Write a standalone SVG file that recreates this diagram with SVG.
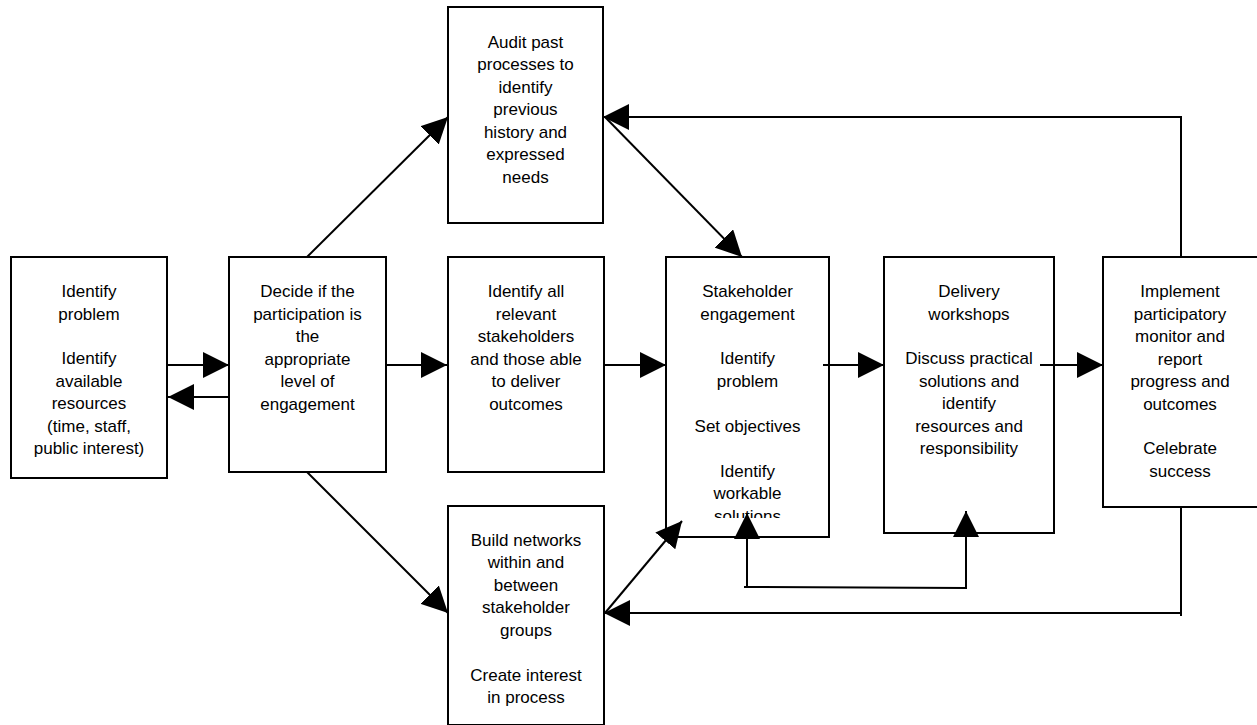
<svg xmlns="http://www.w3.org/2000/svg" width="1257" height="725" viewBox="0 0 1257 725">
<style>
.box{fill:#fff;stroke:#000;stroke-width:2}
.t{font-family:"Liberation Sans",Arial,sans-serif;font-size:17px;fill:#000;text-anchor:middle}
.c{fill:none;stroke:#000;stroke-width:2}
.a{marker-end:url(#ah)}
</style>
<defs>
<marker id="ah" markerUnits="userSpaceOnUse" markerWidth="26" markerHeight="26" refX="26" refY="13" orient="auto">
<path d="M0,0 L26,13 L0,26 Z" fill="#000"/>
</marker>
<clipPath id="clip5"><rect x="666" y="257" width="163" height="261"/></clipPath>
</defs>
<rect width="1257" height="725" fill="#fff"/>

<g id="n1">
<rect class="box" x="11" y="257" width="156" height="221"/>
<text class="t"><tspan x="89" y="297">Identify</tspan><tspan x="89" y="319.5">problem</tspan><tspan x="89" y="364">Identify</tspan><tspan x="89" y="386.5">available</tspan><tspan x="89" y="409">resources</tspan><tspan x="89" y="431.5">(time, staff,</tspan><tspan x="89" y="454">public interest)</tspan></text>
</g>

<g id="n2">
<rect class="box" x="229" y="257" width="157" height="215"/>
<text class="t"><tspan x="307.5" y="297">Decide if the</tspan><tspan x="307.5" y="319.5">participation is</tspan><tspan x="307.5" y="342">the</tspan><tspan x="307.5" y="364.5">appropriate</tspan><tspan x="307.5" y="387">level of</tspan><tspan x="307.5" y="409.5">engagement</tspan></text>
</g>

<g id="n3">
<rect class="box" x="448" y="7" width="155" height="216"/>
<text class="t"><tspan x="525.5" y="47.5">Audit past</tspan><tspan x="525.5" y="70">processes to</tspan><tspan x="525.5" y="92.5">identify</tspan><tspan x="525.5" y="115">previous</tspan><tspan x="525.5" y="137.5">history and</tspan><tspan x="525.5" y="160">expressed</tspan><tspan x="525.5" y="182.5">needs</tspan></text>
</g>

<g id="n4">
<rect class="box" x="448" y="257" width="156" height="215"/>
<text class="t"><tspan x="526" y="297">Identify all</tspan><tspan x="526" y="319.5">relevant</tspan><tspan x="526" y="342">stakeholders</tspan><tspan x="526" y="364.5">and those able</tspan><tspan x="526" y="387">to deliver</tspan><tspan x="526" y="409.5">outcomes</tspan></text>
</g>

<g id="n5">
<rect class="box" x="666" y="257" width="163" height="280"/>
<text class="t" clip-path="url(#clip5)"><tspan x="747.5" y="297">Stakeholder</tspan><tspan x="747.5" y="319.5">engagement</tspan><tspan x="747.5" y="364">Identify</tspan><tspan x="747.5" y="386.5">problem</tspan><tspan x="747.5" y="431.5">Set objectives</tspan><tspan x="747.5" y="476.5">Identify</tspan><tspan x="747.5" y="499">workable</tspan><tspan x="747.5" y="521.5">solutions</tspan></text>
</g>

<g id="n6">
<rect class="box" x="884" y="257" width="170" height="276"/>
<text class="t"><tspan x="969" y="297">Delivery</tspan><tspan x="969" y="319.5">workshops</tspan><tspan x="969" y="364">Discuss practical</tspan><tspan x="969" y="386.5">solutions and</tspan><tspan x="969" y="409">identify</tspan><tspan x="969" y="431.5">resources and</tspan><tspan x="969" y="454">responsibility</tspan></text>
</g>

<g id="n7">
<rect class="box" x="1103" y="257" width="165" height="250"/>
<text class="t"><tspan x="1180" y="297">Implement</tspan><tspan x="1180" y="319.5">participatory</tspan><tspan x="1180" y="342">monitor and</tspan><tspan x="1180" y="364.5">report</tspan><tspan x="1180" y="387">progress and</tspan><tspan x="1180" y="409.5">outcomes</tspan><tspan x="1180" y="454">Celebrate</tspan><tspan x="1180" y="476.5">success</tspan></text>
</g>

<g id="n8">
<rect class="box" x="448" y="506" width="156" height="219"/>
<text class="t"><tspan x="526" y="545.5">Build networks</tspan><tspan x="526" y="568">within and</tspan><tspan x="526" y="590.5">between</tspan><tspan x="526" y="613">stakeholder</tspan><tspan x="526" y="635.5">groups</tspan><tspan x="526" y="680.5">Create interest</tspan><tspan x="526" y="703">in process</tspan></text>
</g>

<g id="connectors">
<path class="c a" d="M167,365 L229,365"/>
<path class="c a" d="M229,397 L168,397"/>
<path class="c a" d="M386,365 L447,365"/>
<path class="c a" d="M604,365 L666,365"/>
<path class="c a" d="M823,365 L884,365"/>
<path class="c a" d="M1040,365 L1103,365"/>
<path class="c a" d="M307,257 L448,117"/>
<path class="c a" d="M307,472 L448,613"/>
<path class="c a" d="M605,117 L742,257"/>
<path class="c a" d="M605,613 L682,521"/>
<path class="c a" d="M1181,257 L1181,117 L603,117"/>
<path class="c" d="M1181,507 L1181,616"/>
<path class="c a" d="M1181,613 L604,613"/>
<path class="c a" d="M747,587 L747,513"/>
<path class="c a" d="M744,587 L966,588 L966,511"/>
</g>
</svg>
